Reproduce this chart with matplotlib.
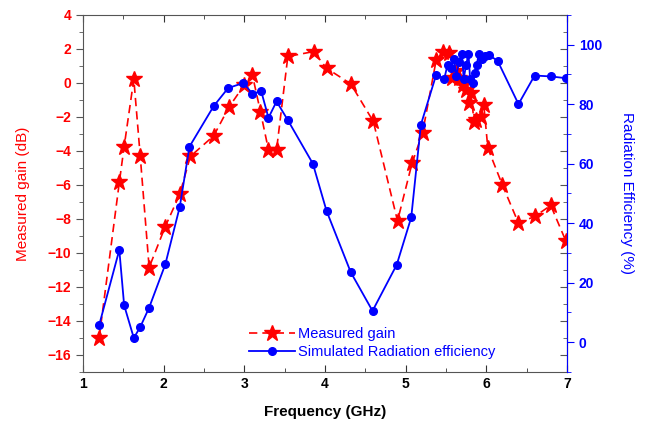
import matplotlib
matplotlib.use("Agg")
import matplotlib.pyplot as plt
from matplotlib.ticker import MultipleLocator, NullFormatter

plt.rcParams['font.family'] = ['Liberation Sans', 'DejaVu Sans']

gain_freq = [1.20, 1.45, 1.51, 1.63, 1.71, 1.82, 2.02, 2.20, 2.33, 2.62, 2.81, 3.00,
             3.10, 3.20, 3.30, 3.40, 3.54, 3.86, 4.02, 4.32, 4.60, 4.90, 5.08, 5.21,
             5.38, 5.47, 5.54, 5.58, 5.62, 5.66, 5.71, 5.75, 5.79, 5.81, 5.85, 5.87,
             5.93, 5.97, 6.02, 6.20, 6.40, 6.60, 6.80, 6.99]
gain_db = [-15.0, -5.86, -3.75, 0.22, -4.33, -10.86, -8.45, -6.55, -4.33, -3.12, -1.43, -0.12,
           0.47, -1.69, -3.94, -3.94, 1.55, 1.84, 0.86, -0.06, -2.27, -8.12, -4.73, -2.96,
           1.35, 1.84, 1.75, 0.3, 0.7, 0.3, -0.12, -0.4, -1.2, -0.6, -2.3, -2.18,
           -1.98, -1.3, -3.84, -6.0, -8.25, -7.86, -7.21, -9.33]

eff_freq = [1.20, 1.45, 1.51, 1.63, 1.71, 1.82, 2.02, 2.20, 2.32, 2.62, 2.80, 2.99,
            3.10, 3.21, 3.30, 3.40, 3.54, 3.85, 4.02, 4.32, 4.59, 4.89, 5.07, 5.19,
            5.38, 5.48, 5.52, 5.56, 5.60, 5.63, 5.66, 5.70, 5.72, 5.75, 5.78, 5.80,
            5.83, 5.86, 5.88, 5.91, 5.95, 5.98, 6.03, 6.14, 6.40, 6.60, 6.80, 6.99]
eff_pct = [5.7, 31.0, 12.4, 1.4, 5.1, 11.6, 26.1, 45.5, 65.7, 79.3, 85.4, 87.1,
           83.5, 84.3, 75.4, 80.9, 74.6, 60.0, 44.1, 23.5, 10.5, 26.0, 41.9, 73.1,
           89.9, 88.5, 93.2, 92.0, 95.0, 89.3, 94.0, 97.0, 88.5, 93.0, 97.0, 88.5,
           87.0, 90.5, 93.0, 97.0, 95.0, 96.3, 96.5, 94.6, 80.0, 89.6, 89.3, 88.7]

fig = plt.figure(figsize=(6.46, 4.36), dpi=100)
ax = fig.add_axes([0.1285, 0.147, 0.749, 0.819])
ax2 = ax.twinx()

l1, = ax.plot(gain_freq, gain_db, color='red', linestyle=(0, (5, 3)), linewidth=1.2,
              marker='*', markersize=12, markerfacecolor='red', markeredgecolor='red',
              label='Measured gain', zorder=3)
l2, = ax2.plot(eff_freq, eff_pct, color='blue', linestyle='-', linewidth=1.3,
               marker='o', markersize=5.5, label='Simulated Radiation efficiency', zorder=2)

ax.set_xlim(1, 7)
ax.set_ylim(-17, 4)
ax2.set_ylim(-10, 110)

ax.xaxis.set_major_locator(MultipleLocator(1))
ax.xaxis.set_minor_locator(MultipleLocator(0.5))
ax.yaxis.set_major_locator(MultipleLocator(2))
ax.yaxis.set_minor_locator(MultipleLocator(1))
ax2.yaxis.set_major_locator(MultipleLocator(20))
ax2.yaxis.set_minor_locator(MultipleLocator(10))

ax.tick_params(axis='x', which='both', direction='in', top=True, bottom=True, colors='#333333')
ax.tick_params(axis='x', which='major', length=5, labelsize=10, labelcolor='black')
ax.tick_params(axis='x', which='minor', length=3)
ax.tick_params(axis='y', which='both', direction='out', colors='#555555', labelcolor='red')
ax.tick_params(axis='y', which='major', length=5, labelsize=10)
ax.tick_params(axis='y', which='minor', length=3)
ax2.tick_params(axis='y', which='both', direction='out', colors='blue', labelcolor='blue')
ax2.tick_params(axis='y', which='major', length=5, labelsize=10)
ax2.tick_params(axis='y', which='minor', length=3)

# mirrored inward gain ticks on the right spine
sec = ax.secondary_yaxis('right')
sec.yaxis.set_major_locator(MultipleLocator(2))
sec.yaxis.set_minor_locator(MultipleLocator(1))
sec.yaxis.set_major_formatter(NullFormatter())
sec.tick_params(axis='y', which='both', direction='in', colors='#555555')
sec.tick_params(axis='y', which='major', length=5)
sec.tick_params(axis='y', which='minor', length=3)
sec.spines['right'].set_visible(False)

for lab in ax.get_xticklabels() + ax.get_yticklabels() + ax2.get_yticklabels():
    lab.set_fontweight('bold')

for s in ['left', 'top', 'bottom']:
    ax.spines[s].set_color('#555555')
ax2.spines['right'].set_color('blue')
ax2.spines['left'].set_visible(False)
ax2.spines['top'].set_visible(False)
ax2.spines['bottom'].set_visible(False)

ax.set_xlabel('Frequency (GHz)', fontsize=11, fontweight='bold', color='black', labelpad=10)
ax.set_ylabel('Measured gain (dB)', fontsize=11, color='red', labelpad=13)
ax2.set_ylabel('Radiation Efficiency (%)', fontsize=11, color='blue', rotation=270, labelpad=23)

leg = ax.legend(handles=[l1, l2], loc='lower left', bbox_to_anchor=(0.33, 0.02),
                frameon=False, fontsize=10.5, handlelength=3.2, handletextpad=0.2,
                labelspacing=0.25, borderaxespad=0)
for t in leg.get_texts():
    t.set_color('blue')

fig.savefig('out.png', dpi=100)
